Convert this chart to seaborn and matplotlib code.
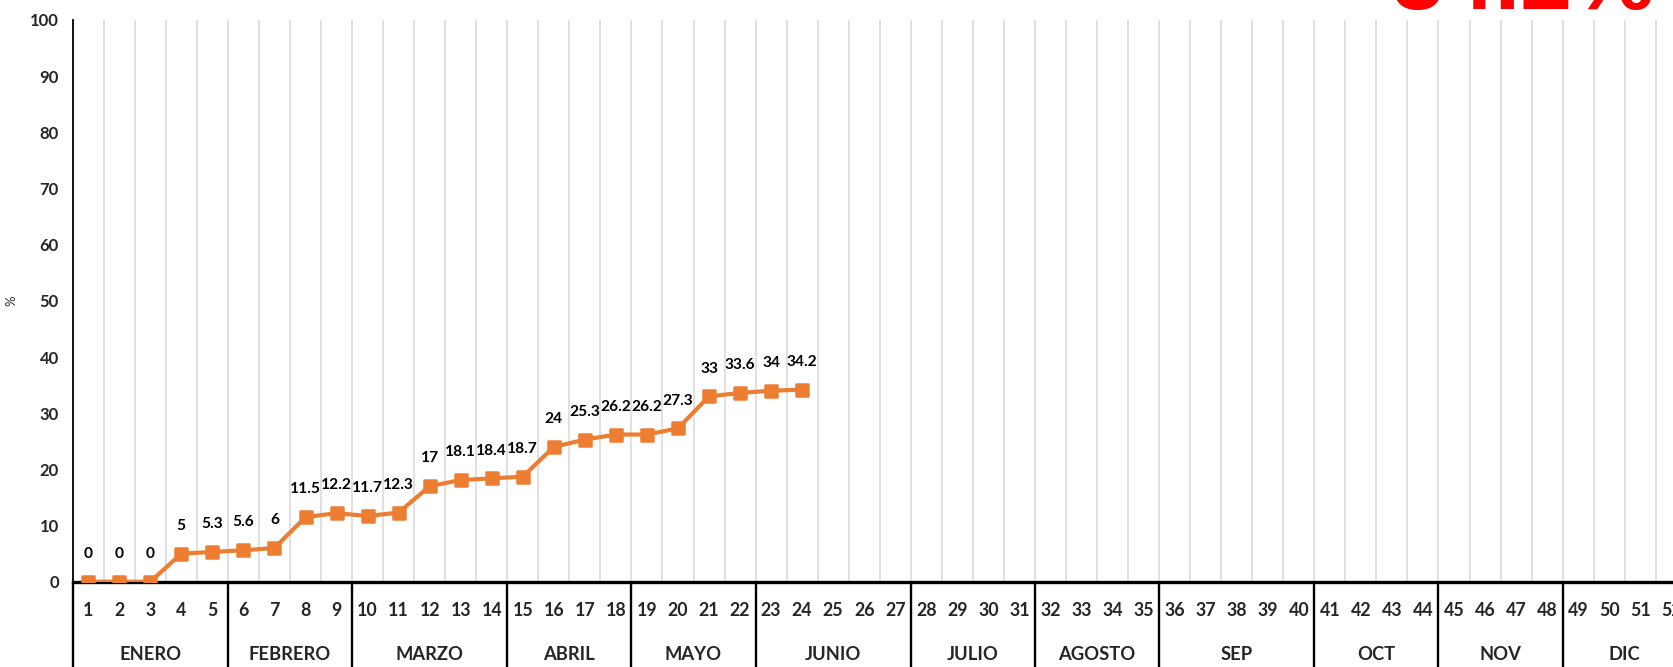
import matplotlib
matplotlib.use("Agg")
import matplotlib.pyplot as plt
import matplotlib.transforms as mtransforms
from matplotlib.markers import MarkerStyle
import numpy as np
import pandas as pd
import seaborn as sns

# Weekly cumulative progress (%)
weeks = list(range(1, 53))
progress_weeks = list(range(1, 25))
progress = [0, 0, 0, 5, 5.3, 5.6, 6, 11.5, 12.2, 11.7, 12.3, 17,
            18.1, 18.4, 18.7, 24, 25.3, 26.2, 26.2, 27.3, 33, 33.6, 34, 34.2]

months = ["ENERO", "FEBRERO", "MARZO", "ABRIL", "MAYO", "JUNIO",
          "JULIO", "AGOSTO", "SEP", "OCT", "NOV", "DIC"]
weeks_per_month = [5, 4, 5, 4, 4, 5, 4, 4, 5, 4, 4, 4]

headline = "34.2%"
y_ticks = list(range(0, 101, 10))

ORANGE = "#ED7D31"

sns.set_style("white")
plt.rcParams["font.family"] = ["Lato", "DejaVu Sans"]

W, H = 1673, 667
fig = plt.figure(figsize=(W / 100, H / 100), dpi=100)

# Axes spans 52 week slots; the last slot runs past the right edge of the canvas
left_px, top_px, zero_px = 72.7, 20.0, 581.7
slot_px = 31.04
right_px = left_px + 52 * slot_px
ax = fig.add_axes([left_px / W, (H - zero_px) / H,
                   (right_px - left_px) / W, (zero_px - top_px) / H])

df = pd.DataFrame({"semana": progress_weeks, "avance": progress})
sns.lineplot(data=df, x="semana", y="avance", ax=ax, color=ORANGE,
             linewidth=3.0, marker=MarkerStyle("s", joinstyle="round"),
             markersize=9.0, markeredgecolor=ORANGE, markeredgewidth=1.8,
             zorder=5)

ax.set_xlim(0.5, 52.5)
ax.set_ylim(0, 100)

# Light vertical gridlines on every week boundary
ax.set_xticks(np.arange(1.5, 52.5, 1), minor=True)
ax.set_xticks([])
ax.grid(which="minor", axis="x", color="#d9d9d9", linewidth=1.1)
ax.grid(which="major", axis="y", visible=False)
ax.tick_params(axis="x", which="both", length=0)

ax.set_yticks(y_ticks)
ax.set_yticklabels([str(v) for v in y_ticks], fontsize=12, fontweight="bold")
ax.tick_params(axis="y", length=0, pad=10)

ax.set_xlabel("")
ax.set_ylabel("%", fontsize=9.5, rotation=90)
ax.yaxis.set_label_coords(-0.0345, 0.5)

for side in ("top", "right"):
    ax.spines[side].set_visible(False)
ax.spines["left"].set_color("black")
ax.spines["left"].set_linewidth(1.3)
ax.spines["bottom"].set_color("black")
ax.spines["bottom"].set_linewidth(2.4)
ax.spines["bottom"].set_zorder(4)

# Value labels above each point
for wk, val in zip(progress_weeks, progress):
    ax.annotate(f"{val:g}", (wk, val), xytext=(0, 20), textcoords="offset points",
                ha="center", va="center", fontsize=11.2, fontweight="bold",
                color="black", zorder=6)

# Week numbers and month bands under the axis
trans = mtransforms.blended_transform_factory(ax.transData, ax.transAxes)
axis_h = zero_px - top_px
week_y = -(611 - zero_px) / axis_h
month_y = -(655 - zero_px) / axis_h
for wk in weeks:
    ax.text(wk, week_y, str(wk), transform=trans, ha="center", va="center",
            fontsize=12.8, fontweight="bold", clip_on=False)

boundaries = np.concatenate([[0], np.cumsum(weeks_per_month)])
for b in boundaries:
    ax.plot([b + 0.5, b + 0.5], [0, -0.3], transform=trans, color="black",
            linewidth=1.7, clip_on=False, zorder=3)
for name, a, b in zip(months, boundaries[:-1], boundaries[1:]):
    ax.text((a + b) / 2 + 0.5, month_y, name, transform=trans, ha="center",
            va="center", fontsize=13.2, fontweight="bold", clip_on=False)

# Large headline figure at the top right
fig.text(1392 / W, (H - 8.5) / H, headline, ha="left", va="baseline",
         fontsize=67, fontweight="bold", color="#FF0000",
         family=["Liberation Sans", "DejaVu Sans"])

fig.savefig("out.png", dpi=100, facecolor="white")
